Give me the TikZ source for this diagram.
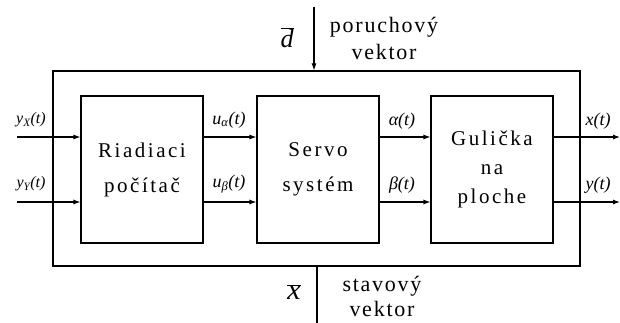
\documentclass[tikz,border=0pt]{standalone}
\usepackage{fontspec}
\setmainfont{Liberation Serif}
\usetikzlibrary{arrows.meta}
\begin{document}
\begin{tikzpicture}[x=1pt,y=-1pt, line width=1.1pt,
  blk/.style={draw, minimum width=122pt, minimum height=147pt, inner sep=0pt, align=center,
    font=\fontsize{21}{35}\selectfont\addfontfeature{LetterSpace=12}},
  sig/.style={font=\fontsize{18}{18}\selectfont\itshape, inner sep=0pt},
  lbl/.style={font=\fontsize{22}{27}\selectfont\addfontfeature{LetterSpace=8}, align=center, inner sep=0pt},
  arr/.style={-{Latex[length=7pt,width=5pt]}}
]
\useasboundingbox (0,0) rectangle (620,323);
\node[draw, minimum width=527pt, minimum height=195pt, inner sep=0pt] (outer) at (316.5,168.5) {};
\node[blk] (b1) at (142,169.5) {Riadiaci\\počítač};
\node[blk] (b2) at (318,169.5) {Servo\\systém};
\node[blk, font=\fontsize{21}{29}\selectfont\addfontfeature{LetterSpace=12}] (b3) at (492,169.5) {Gulička\\na\\ploche};
% signal rows
\coordinate (in1) at (17,137);
\coordinate (in2) at (17,202);
\coordinate (out1) at (620,137);
\coordinate (out2) at (620,202);
\draw[arr] (in1) -- (in1 -| b1.west);
\draw[arr] (in2) -- (in2 -| b1.west);
\draw[arr] (b1.east |- in1) -- (b2.west |- in1);
\draw[arr] (b1.east |- in2) -- (b2.west |- in2);
\draw[arr] (b2.east |- in1) -- (b3.west |- in1);
\draw[arr] (b2.east |- in2) -- (b3.west |- in2);
\draw[arr] (b3.east |- out1) -- (out1);
\draw[arr] (b3.east |- out2) -- (out2);
% disturbance and state
\coordinate (dtop) at (314,7);
\draw[arr] (dtop) -- (dtop |- outer.north);
\coordinate (xbot) at (317,323);
\draw (xbot |- outer.south) -- (xbot);
% labels
\node[sig, font=\fontsize{16}{16}\selectfont\itshape] (lyx) at (31,120) {y\textsubscript{X}(t)};
\node[sig, font=\fontsize{16}{16}\selectfont\itshape] (lyy) at (31,184) {y\textsubscript{Y}(t)};
\node[sig] (lua) at (229,120) {u\textsubscript{α}(t)};
\node[sig] (lub) at (229,184) {u\textsubscript{β}(t)};
\node[sig] (la) at (402,121) {α(t)};
\node[sig] (lb) at (402,185) {β(t)};
\node[sig] (lx) at (598,121) {x(t)};
\node[sig] (ly) at (598,185) {y(t)};
\node[inner sep=0pt, font=\fontsize{26}{26}\selectfont] (ld) at (287,38) {$\overline{\textit{d}}$};
\node[lbl] (lpv) at (384,38) {poruchový\\vektor};
\node[inner sep=0pt, font=\fontsize{30}{30}\selectfont] (lxs) at (294,292) {$\overline{\textit{x}}$};
\node[lbl, font=\fontsize{22}{25}\selectfont\addfontfeature{LetterSpace=8}] (lsv) at (382,296) {stavový\\vektor};
\end{tikzpicture}
\end{document}
